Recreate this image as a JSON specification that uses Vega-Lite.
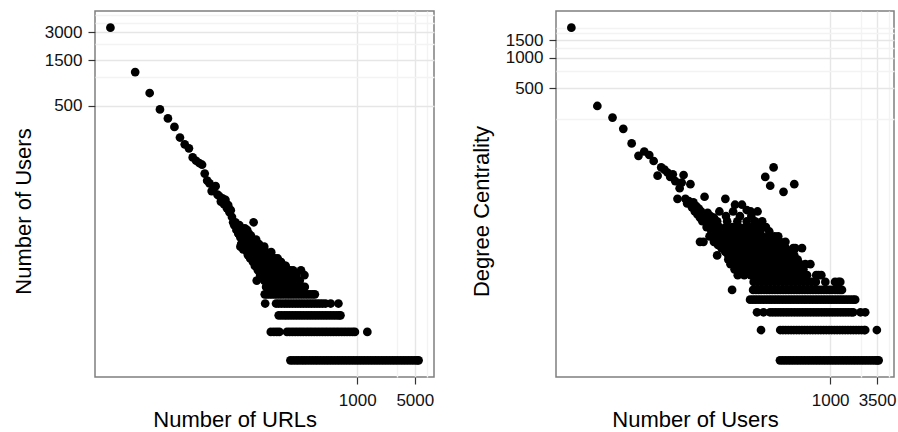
{
  "$schema": "https://vega.github.io/schema/vega-lite/v6.json",
  "background": "white",
  "padding": {"left": 11, "top": 5, "right": 0, "bottom": 0},
  "spacing": 122,
  "bounds": "flush",
  "config": {
    "view": {"stroke": "#7f7f7f", "strokeWidth": 1.5},
    "font": "Liberation Sans",
    "axis": {
      "domain": false,
      "tickColor": "#333333",
      "tickWidth": 1.2,
      "tickSize": 7,
      "labelFont": "Liberation Sans",
      "labelFontSize": 17,
      "labelColor": "#111111",
      "titleFont": "Liberation Sans",
      "titleFontSize": 22,
      "titleFontWeight": "normal",
      "titleColor": "#000000",
      "labelOverlap": false,
      "labelFlush": false
    }
  },
  "datasets": {
    "left": [
      {"x":1,"y":3340},{"x":2,"y":1130},{"x":3,"y":678},{"x":4,"y":455},{"x":5,"y":365},{"x":6,"y":297},{"x":7,"y":229},{"x":8,"y":194},{"x":9,"y":176},{"x":10,"y":141},
      {"x":11,"y":130},{"x":12,"y":123},{"x":13,"y":118},{"x":14,"y":95},{"x":15,"y":80},{"x":16,"y":75},{"x":17,"y":62},{"x":18,"y":66},{"x":19,"y":70},{"x":20,"y":57},
      {"x":21,"y":55},{"x":22,"y":48},{"x":23,"y":52},{"x":24,"y":45},{"x":25,"y":50},{"x":26,"y":41},{"x":27,"y":44},{"x":28,"y":37},{"x":29,"y":39},{"x":30,"y":33},
      {"x":31,"y":29},{"x":32,"y":27},{"x":33,"y":29},{"x":34,"y":24},{"x":35,"y":26},{"x":36,"y":22},{"x":37,"y":27},{"x":38,"y":21},{"x":39,"y":17},{"x":40,"y":23},
      {"x":41,"y":16},{"x":42,"y":19},{"x":43,"y":25},{"x":44,"y":18},{"x":45,"y":23},{"x":46,"y":15},{"x":47,"y":19},{"x":48,"y":14},{"x":49,"y":17},{"x":50,"y":15},
      {"x":51,"y":21},{"x":52,"y":13},{"x":53,"y":16},{"x":54,"y":18},{"x":55,"y":29},{"x":56,"y":12},{"x":57,"y":16},{"x":58,"y":14},{"x":59,"y":19},{"x":60,"y":7},
      {"x":61,"y":13},{"x":62,"y":15},{"x":63,"y":11},{"x":64,"y":17},{"x":65,"y":12},{"x":66,"y":10},{"x":67,"y":14},{"x":68,"y":12},{"x":69,"y":15},{"x":70,"y":9},
      {"x":71,"y":11},{"x":72,"y":13},{"x":73,"y":10},{"x":74,"y":16},{"x":75,"y":8},{"x":76,"y":12},{"x":77,"y":10},{"x":78,"y":14},{"x":79,"y":9},{"x":80,"y":11},
      {"x":82,"y":13},{"x":83,"y":8},{"x":84,"y":10},{"x":85,"y":12},{"x":86,"y":7},{"x":88,"y":9},{"x":89,"y":11},{"x":90,"y":14},{"x":92,"y":8},{"x":93,"y":10},
      {"x":95,"y":12},{"x":96,"y":7},{"x":98,"y":9},{"x":100,"y":11},{"x":102,"y":8},{"x":104,"y":10},{"x":106,"y":6},{"x":108,"y":12},{"x":110,"y":9},{"x":112,"y":7},
      {"x":114,"y":10},{"x":116,"y":8},{"x":118,"y":11},{"x":120,"y":6},{"x":123,"y":9},{"x":126,"y":7},{"x":129,"y":8},{"x":132,"y":10},{"x":135,"y":6},{"x":138,"y":8},
      {"x":141,"y":7},{"x":144,"y":9},{"x":147,"y":6},{"x":150,"y":8},{"x":154,"y":9},{"x":160,"y":7},{"x":166,"y":6},{"x":172,"y":8},{"x":180,"y":6},{"x":190,"y":7},
      {"x":207,"y":9},{"x":215,"y":6},{"x":230,"y":6},
      {"x":35,"y":24},{"x":40,"y":24},{"x":46,"y":24},{"x":36,"y":22},{"x":42,"y":22},{"x":48,"y":22},{"x":38,"y":20},{"x":44,"y":20},{"x":50,"y":20},
      {"x":40,"y":18},{"x":47,"y":18},{"x":52,"y":18},{"x":39,"y":17},{"x":46,"y":17},{"x":54,"y":17},{"x":38,"y":16},{"x":45,"y":16},{"x":53,"y":16},{"x":60,"y":16},
      {"x":41,"y":15},{"x":48,"y":15},{"x":56,"y":15},{"x":65,"y":15},{"x":46,"y":14},{"x":53,"y":14},{"x":62,"y":14},{"x":71,"y":14},{"x":47,"y":13},{"x":55,"y":13},{"x":64,"y":13},{"x":74,"y":13},
      {"x":50,"y":12},{"x":58,"y":12},{"x":67,"y":12},{"x":77,"y":12},{"x":88,"y":12},{"x":100,"y":12},
      {"x":54,"y":11},{"x":62,"y":11},{"x":71,"y":11},{"x":81,"y":11},{"x":92,"y":11},{"x":104,"y":11},{"x":118,"y":11},
      {"x":57,"y":10},{"x":65,"y":10},{"x":74,"y":10},{"x":84,"y":10},{"x":95,"y":10},{"x":107,"y":10},{"x":120,"y":10},{"x":135,"y":10},
      {"x":62,"y":9},{"x":70,"y":9},{"x":79,"y":9},{"x":89,"y":9},{"x":100,"y":9},{"x":112,"y":9},{"x":125,"y":9},{"x":140,"y":9},{"x":166,"y":9},
      {"x":66,"y":8},{"x":74,"y":8},{"x":83,"y":8},{"x":93,"y":8},{"x":104,"y":8},{"x":116,"y":8},{"x":130,"y":8},{"x":145,"y":8},{"x":162,"y":8},{"x":180,"y":8},{"x":228,"y":8},
      {"x":74,"y":7},{"x":82,"y":7},{"x":91,"y":7},{"x":101,"y":7},{"x":112,"y":7},{"x":124,"y":7},{"x":137,"y":7},{"x":152,"y":7},{"x":168,"y":7},{"x":185,"y":7},{"x":200,"y":7},
      {"x":78,"y":6},{"x":86,"y":6},{"x":95,"y":6},{"x":104,"y":6},{"x":114,"y":6},{"x":125,"y":6},{"x":137,"y":6},{"x":150,"y":6},{"x":165,"y":6},{"x":181,"y":6},{"x":198,"y":6},
      {"x":75,"y":5},{"x":80,"y":5},{"x":86,"y":5},{"x":92,"y":5},{"x":99,"y":5},{"x":106,"y":5},{"x":114,"y":5},{"x":122,"y":5},{"x":131,"y":5},{"x":141,"y":5},{"x":151,"y":5},
      {"x":162,"y":5},{"x":174,"y":5},{"x":187,"y":5},{"x":201,"y":5},{"x":216,"y":5},{"x":232,"y":5},{"x":249,"y":5},{"x":267,"y":5},{"x":287,"y":5},{"x":305,"y":5},
      {"x":76,"y":4},{"x":103,"y":4},{"x":111,"y":4},{"x":120,"y":4},{"x":130,"y":4},{"x":140,"y":4},{"x":151,"y":4},{"x":163,"y":4},{"x":176,"y":4},{"x":190,"y":4},{"x":205,"y":4},
      {"x":221,"y":4},{"x":239,"y":4},{"x":258,"y":4},{"x":278,"y":4},{"x":300,"y":4},{"x":324,"y":4},{"x":350,"y":4},{"x":378,"y":4},{"x":410,"y":4},{"x":475,"y":4},{"x":590,"y":4},
      {"x":111,"y":3},{"x":120,"y":3},{"x":130,"y":3},{"x":140,"y":3},{"x":151,"y":3},{"x":163,"y":3},{"x":176,"y":3},{"x":190,"y":3},{"x":205,"y":3},{"x":221,"y":3},{"x":239,"y":3},{"x":258,"y":3},
      {"x":278,"y":3},{"x":300,"y":3},{"x":324,"y":3},{"x":350,"y":3},{"x":378,"y":3},{"x":408,"y":3},{"x":440,"y":3},{"x":475,"y":3},{"x":513,"y":3},{"x":554,"y":3},{"x":598,"y":3},{"x":625,"y":3},
      {"x":89,"y":2},{"x":97,"y":2},{"x":105,"y":2},{"x":113,"y":2},{"x":140,"y":2},{"x":151,"y":2},{"x":163,"y":2},{"x":176,"y":2},{"x":190,"y":2},{"x":205,"y":2},{"x":221,"y":2},{"x":239,"y":2},
      {"x":258,"y":2},{"x":278,"y":2},{"x":300,"y":2},{"x":324,"y":2},{"x":350,"y":2},{"x":378,"y":2},{"x":408,"y":2},{"x":440,"y":2},{"x":475,"y":2},{"x":513,"y":2},{"x":554,"y":2},{"x":598,"y":2},
      {"x":646,"y":2},{"x":697,"y":2},{"x":752,"y":2},{"x":812,"y":2},{"x":876,"y":2},{"x":935,"y":2},{"x":1325,"y":2},
      {"x":154,"y":1},{"x":166,"y":1},{"x":180,"y":1},{"x":194,"y":1},{"x":210,"y":1},{"x":226,"y":1},{"x":244,"y":1},{"x":264,"y":1},{"x":285,"y":1},{"x":308,"y":1},{"x":332,"y":1},{"x":359,"y":1},
      {"x":388,"y":1},{"x":419,"y":1},{"x":452,"y":1},{"x":488,"y":1},{"x":527,"y":1},{"x":570,"y":1},{"x":615,"y":1},{"x":664,"y":1},{"x":717,"y":1},{"x":775,"y":1},{"x":837,"y":1},{"x":904,"y":1},
      {"x":976,"y":1},{"x":1054,"y":1},{"x":1138,"y":1},{"x":1229,"y":1},{"x":1328,"y":1},{"x":1434,"y":1},{"x":1549,"y":1},{"x":1673,"y":1},{"x":1806,"y":1},{"x":1951,"y":1},{"x":2107,"y":1},{"x":2275,"y":1},
      {"x":2457,"y":1},{"x":2654,"y":1},{"x":2866,"y":1},{"x":3095,"y":1},{"x":3343,"y":1},{"x":3610,"y":1},{"x":3899,"y":1},{"x":4211,"y":1},{"x":4548,"y":1},{"x":4912,"y":1},{"x":5305,"y":1},{"x":5560,"y":1}
    ],
    "right": [
      {"x":1,"y":1999},{"x":2,"y":334},{"x":3,"y":256},{"x":4,"y":198},{"x":5,"y":142},{"x":6,"y":107},{"x":7,"y":118},{"x":8,"y":109},{"x":9,"y":95},{"x":10,"y":68},
      {"x":11,"y":82},{"x":12,"y":78},{"x":13,"y":73},{"x":14,"y":66},{"x":15,"y":70},{"x":16,"y":60},{"x":17,"y":40},{"x":18,"y":51},{"x":19,"y":58},{"x":20,"y":69},
      {"x":21,"y":40},{"x":22,"y":36},{"x":23,"y":38},{"x":24,"y":56},{"x":25,"y":33},{"x":26,"y":37},{"x":27,"y":30},{"x":28,"y":34},{"x":29,"y":28},{"x":30,"y":32},
      {"x":31,"y":26},{"x":32,"y":30},{"x":33,"y":24},{"x":34,"y":28},{"x":36,"y":25},{"x":38,"y":29},{"x":39,"y":23},{"x":41,"y":27},{"x":43,"y":22},{"x":45,"y":26},{"x":47,"y":20},{"x":49,"y":24},
      {"x":35,"y":42},{"x":61,"y":40},{"x":79,"y":35},{"x":95,"y":35},{"x":108,"y":31},{"x":144,"y":30},{"x":163,"y":24},{"x":155,"y":19},{"x":148,"y":16},{"x":34,"y":15},{"x":49,"y":11},{"x":61,"y":12},
      {"x":221,"y":82},{"x":177,"y":66},{"x":202,"y":54},{"x":288,"y":47},{"x":384,"y":56},{"x":303,"y":15},{"x":395,"y":13},{"x":472,"y":13},{"x":516,"y":9},{"x":735,"y":7},
      {"x":264,"y":15},{"x":374,"y":13},{"x":690,"y":7},{"x":790,"y":7},{"x":1250,"y":6},{"x":590,"y":9},
      {"x":52,"y":30},{"x":75,"y":30},{"x":120,"y":30},
      {"x":40,"y":27},{"x":62,"y":27},{"x":90,"y":27},{"x":122,"y":27},
      {"x":45,"y":24},{"x":64,"y":24},{"x":84,"y":24},{"x":108,"y":24},{"x":135,"y":24},
      {"x":37,"y":21},{"x":52,"y":21},{"x":62,"y":21},{"x":74,"y":21},{"x":88,"y":21},{"x":104,"y":21},{"x":124,"y":21},{"x":147,"y":21},{"x":180,"y":21},
      {"x":42,"y":19},{"x":50,"y":19},{"x":59,"y":19},{"x":70,"y":19},{"x":83,"y":19},{"x":99,"y":19},{"x":118,"y":19},{"x":140,"y":19},{"x":197,"y":19},
      {"x":40,"y":17},{"x":48,"y":17},{"x":57,"y":17},{"x":68,"y":17},{"x":81,"y":17},{"x":96,"y":17},{"x":114,"y":17},{"x":136,"y":17},{"x":162,"y":17},{"x":192,"y":17},{"x":228,"y":17},{"x":250,"y":17},
      {"x":31,"y":15},{"x":45,"y":15},{"x":54,"y":15},{"x":64,"y":15},{"x":76,"y":15},{"x":90,"y":15},{"x":107,"y":15},{"x":127,"y":15},{"x":178,"y":15},{"x":211,"y":15},{"x":250,"y":15},
      {"x":50,"y":14},{"x":60,"y":14},{"x":71,"y":14},{"x":84,"y":14},{"x":100,"y":14},{"x":119,"y":14},{"x":141,"y":14},{"x":168,"y":14},{"x":199,"y":14},{"x":237,"y":14},{"x":281,"y":14},
      {"x":55,"y":13},{"x":65,"y":13},{"x":77,"y":13},{"x":92,"y":13},{"x":109,"y":13},{"x":130,"y":13},{"x":154,"y":13},{"x":183,"y":13},{"x":217,"y":13},{"x":258,"y":13},{"x":306,"y":13},
      {"x":61,"y":12},{"x":72,"y":12},{"x":86,"y":12},{"x":102,"y":12},{"x":121,"y":12},{"x":144,"y":12},{"x":171,"y":12},{"x":203,"y":12},{"x":241,"y":12},{"x":286,"y":12},{"x":340,"y":12},
      {"x":66,"y":11},{"x":78,"y":11},{"x":92,"y":11},{"x":109,"y":11},{"x":130,"y":11},{"x":154,"y":11},{"x":183,"y":11},{"x":217,"y":11},{"x":258,"y":11},{"x":306,"y":11},{"x":384,"y":11},
      {"x":66,"y":10},{"x":78,"y":10},{"x":92,"y":10},{"x":109,"y":10},{"x":130,"y":10},{"x":154,"y":10},{"x":183,"y":10},{"x":217,"y":10},{"x":258,"y":10},{"x":306,"y":10},{"x":362,"y":10},{"x":420,"y":10},
      {"x":70,"y":9},{"x":83,"y":9},{"x":99,"y":9},{"x":117,"y":9},{"x":139,"y":9},{"x":165,"y":9},{"x":196,"y":9},{"x":233,"y":9},{"x":277,"y":9},{"x":329,"y":9},{"x":391,"y":9},{"x":450,"y":9},
      {"x":78,"y":8},{"x":92,"y":8},{"x":109,"y":8},{"x":130,"y":8},{"x":154,"y":8},{"x":183,"y":8},{"x":217,"y":8},{"x":258,"y":8},{"x":306,"y":8},{"x":363,"y":8},{"x":431,"y":8},{"x":490,"y":8},
      {"x":85,"y":7},{"x":101,"y":7},{"x":120,"y":7},{"x":142,"y":7},{"x":169,"y":7},{"x":200,"y":7},{"x":238,"y":7},{"x":282,"y":7},{"x":335,"y":7},{"x":398,"y":7},{"x":472,"y":7},{"x":540,"y":7},
      {"x":130,"y":6},{"x":145,"y":6},{"x":162,"y":6},{"x":181,"y":6},{"x":202,"y":6},{"x":226,"y":6},{"x":252,"y":6},{"x":282,"y":6},{"x":315,"y":6},{"x":352,"y":6},{"x":393,"y":6},{"x":439,"y":6},
      {"x":490,"y":6},{"x":547,"y":6},{"x":611,"y":6},{"x":682,"y":6},{"x":880,"y":6},{"x":1140,"y":6},{"x":1310,"y":6},
      {"x":73,"y":5},{"x":128,"y":5},{"x":138,"y":5},{"x":148,"y":5},{"x":159,"y":5},{"x":171,"y":5},{"x":184,"y":5},{"x":198,"y":5},{"x":213,"y":5},{"x":229,"y":5},{"x":246,"y":5},{"x":265,"y":5},
      {"x":285,"y":5},{"x":306,"y":5},{"x":329,"y":5},{"x":354,"y":5},{"x":381,"y":5},{"x":410,"y":5},{"x":440,"y":5},{"x":474,"y":5},{"x":509,"y":5},{"x":548,"y":5},{"x":589,"y":5},{"x":633,"y":5},
      {"x":681,"y":5},{"x":732,"y":5},{"x":787,"y":5},{"x":846,"y":5},{"x":910,"y":5},{"x":978,"y":5},{"x":1052,"y":5},{"x":1140,"y":5},{"x":1220,"y":5},{"x":1300,"y":5},{"x":1370,"y":5},
      {"x":118,"y":4},{"x":127,"y":4},{"x":136,"y":4},{"x":146,"y":4},{"x":157,"y":4},{"x":169,"y":4},{"x":182,"y":4},{"x":196,"y":4},{"x":210,"y":4},{"x":226,"y":4},{"x":243,"y":4},{"x":261,"y":4},
      {"x":281,"y":4},{"x":302,"y":4},{"x":325,"y":4},{"x":349,"y":4},{"x":375,"y":4},{"x":403,"y":4},{"x":433,"y":4},{"x":466,"y":4},{"x":501,"y":4},{"x":538,"y":4},{"x":579,"y":4},{"x":622,"y":4},
      {"x":669,"y":4},{"x":719,"y":4},{"x":773,"y":4},{"x":831,"y":4},{"x":893,"y":4},{"x":960,"y":4},{"x":1032,"y":4},{"x":1109,"y":4},{"x":1193,"y":4},{"x":1282,"y":4},{"x":1378,"y":4},{"x":1482,"y":4},
      {"x":1593,"y":4},{"x":1712,"y":4},{"x":1840,"y":4},{"x":1950,"y":4},
      {"x":142,"y":3},{"x":169,"y":3},{"x":201,"y":3},{"x":216,"y":3},{"x":232,"y":3},{"x":249,"y":3},{"x":268,"y":3},{"x":288,"y":3},{"x":310,"y":3},{"x":333,"y":3},{"x":358,"y":3},{"x":385,"y":3},
      {"x":414,"y":3},{"x":445,"y":3},{"x":478,"y":3},{"x":514,"y":3},{"x":553,"y":3},{"x":594,"y":3},{"x":639,"y":3},{"x":687,"y":3},{"x":738,"y":3},{"x":794,"y":3},{"x":853,"y":3},{"x":917,"y":3},
      {"x":986,"y":3},{"x":1060,"y":3},{"x":1139,"y":3},{"x":1225,"y":3},{"x":1317,"y":3},{"x":1415,"y":3},{"x":1522,"y":3},{"x":1636,"y":3},{"x":1758,"y":3},{"x":1850,"y":3},{"x":2250,"y":3},{"x":2550,"y":3},
      {"x":158,"y":2},{"x":264,"y":2},{"x":284,"y":2},{"x":305,"y":2},{"x":328,"y":2},{"x":353,"y":2},{"x":379,"y":2},{"x":408,"y":2},{"x":438,"y":2},{"x":471,"y":2},{"x":506,"y":2},{"x":544,"y":2},
      {"x":585,"y":2},{"x":629,"y":2},{"x":676,"y":2},{"x":727,"y":2},{"x":781,"y":2},{"x":840,"y":2},{"x":903,"y":2},{"x":971,"y":2},{"x":1043,"y":2},{"x":1122,"y":2},{"x":1206,"y":2},{"x":1296,"y":2},
      {"x":1393,"y":2},{"x":1498,"y":2},{"x":1610,"y":2},{"x":1731,"y":2},{"x":1861,"y":2},{"x":2000,"y":2},{"x":2150,"y":2},{"x":2311,"y":2},{"x":2480,"y":2},{"x":2550,"y":2},{"x":3480,"y":2},
      {"x":262,"y":1},{"x":282,"y":1},{"x":303,"y":1},{"x":326,"y":1},{"x":350,"y":1},{"x":376,"y":1},{"x":405,"y":1},{"x":435,"y":1},{"x":468,"y":1},{"x":503,"y":1},{"x":541,"y":1},{"x":581,"y":1},
      {"x":625,"y":1},{"x":672,"y":1},{"x":722,"y":1},{"x":776,"y":1},{"x":835,"y":1},{"x":897,"y":1},{"x":965,"y":1},{"x":1037,"y":1},{"x":1115,"y":1},{"x":1198,"y":1},{"x":1288,"y":1},{"x":1385,"y":1},
      {"x":1489,"y":1},{"x":1600,"y":1},{"x":1720,"y":1},{"x":1850,"y":1},{"x":1988,"y":1},{"x":2137,"y":1},{"x":2298,"y":1},{"x":2470,"y":1},{"x":2655,"y":1},{"x":2855,"y":1},{"x":3069,"y":1},{"x":3299,"y":1},
      {"x":3500,"y":1},{"x":3650,"y":1}
    ]
  },
  "hconcat": [
    {
      "width": 339,
      "height": 366,
      "data": {"name": "left"},
      "mark": {"type": "circle", "size": 76, "color": "#000000", "opacity": 1},
      "encoding": {
        "x": {
          "field": "x", "type": "quantitative",
          "scale": {"type": "log", "domain": [0.6497, 8557], "nice": false, "zero": false},
          "axis": {
            "title": "Number of URLs",
            "values": [1000, 3000, 5000, 7000],
            "format": "d",
            "labelExpr": "datum.value == 1000 || datum.value == 5000 ? datum.label : ''",
            "tickOpacity": {"condition": {"test": "datum.value == 1000 || datum.value == 5000", "value": 1}, "value": 0},
            "gridColor": {"condition": {"test": "datum.value == 1000 || datum.value == 5000", "value": "#e6e6e6"}, "value": "#f3f3f3"},
            "gridWidth": 1.4,
            "labelPadding": 8,
            "titleX": 139.7, "titleY": 49, "titleBaseline": "alphabetic", "titleAlign": "center"
          }
        },
        "y": {
          "field": "y", "type": "quantitative",
          "scale": {"type": "log", "domain": [0.6666, 5011], "nice": false, "zero": false},
          "axis": {
            "title": "Number of Users",
            "values": [500, 1000, 1500, 2250, 3000, 3750, 4500],
            "format": "d",
            "labelExpr": "datum.value == 500 || datum.value == 1500 || datum.value == 3000 ? datum.label : ''",
            "tickOpacity": {"condition": {"test": "datum.value == 500 || datum.value == 1500 || datum.value == 3000", "value": 1}, "value": 0},
            "gridColor": {"condition": {"test": "datum.value == 500 || datum.value == 1500 || datum.value == 3000", "value": "#e6e6e6"}, "value": "#f3f3f3"},
            "gridWidth": 1.4,
            "labelPadding": 6,
            "titleX": -65, "titleY": 200, "titleAngle": 270, "titleBaseline": "alphabetic", "titleAlign": "center"
          }
        }
      }
    },
    {
      "width": 338,
      "height": 366,
      "data": {"name": "right"},
      "mark": {"type": "circle", "size": 76, "color": "#000000", "opacity": 1},
      "encoding": {
        "x": {
          "field": "x", "type": "quantitative",
          "scale": {"type": "log", "domain": [0.6636, 5500], "nice": false, "zero": false},
          "axis": {
            "title": "Number of Users",
            "values": [1000, 2250, 3500, 4750],
            "format": "d",
            "labelExpr": "datum.value == 1000 || datum.value == 3500 ? datum.label : ''",
            "tickOpacity": {"condition": {"test": "datum.value == 1000 || datum.value == 3500", "value": 1}, "value": 0},
            "gridColor": {"condition": {"test": "datum.value == 1000 || datum.value == 3500", "value": "#e6e6e6"}, "value": "#f3f3f3"},
            "gridWidth": 1.4,
            "labelPadding": 8,
            "titleX": 139, "titleY": 49, "titleBaseline": "alphabetic", "titleAlign": "center"
          }
        },
        "y": {
          "field": "y", "type": "quantitative",
          "scale": {"type": "log", "domain": [0.6839, 2923], "nice": false, "zero": false},
          "axis": {
            "title": "Degree Centrality",
            "values": [250, 500, 750, 1000, 1250, 1500, 1750, 2000],
            "format": "d",
            "labelExpr": "datum.value == 500 || datum.value == 1000 || datum.value == 1500 ? datum.label : ''",
            "tickOpacity": {"condition": {"test": "datum.value == 500 || datum.value == 1000 || datum.value == 1500", "value": 1}, "value": 0},
            "gridColor": {"condition": {"test": "datum.value == 500 || datum.value == 1000 || datum.value == 1500", "value": "#e6e6e6"}, "value": "#f3f3f3"},
            "gridWidth": 1.4,
            "labelPadding": 6,
            "titleX": -67.4, "titleY": 200, "titleAngle": 270, "titleBaseline": "alphabetic", "titleAlign": "center"
          }
        }
      }
    }
  ]
}
